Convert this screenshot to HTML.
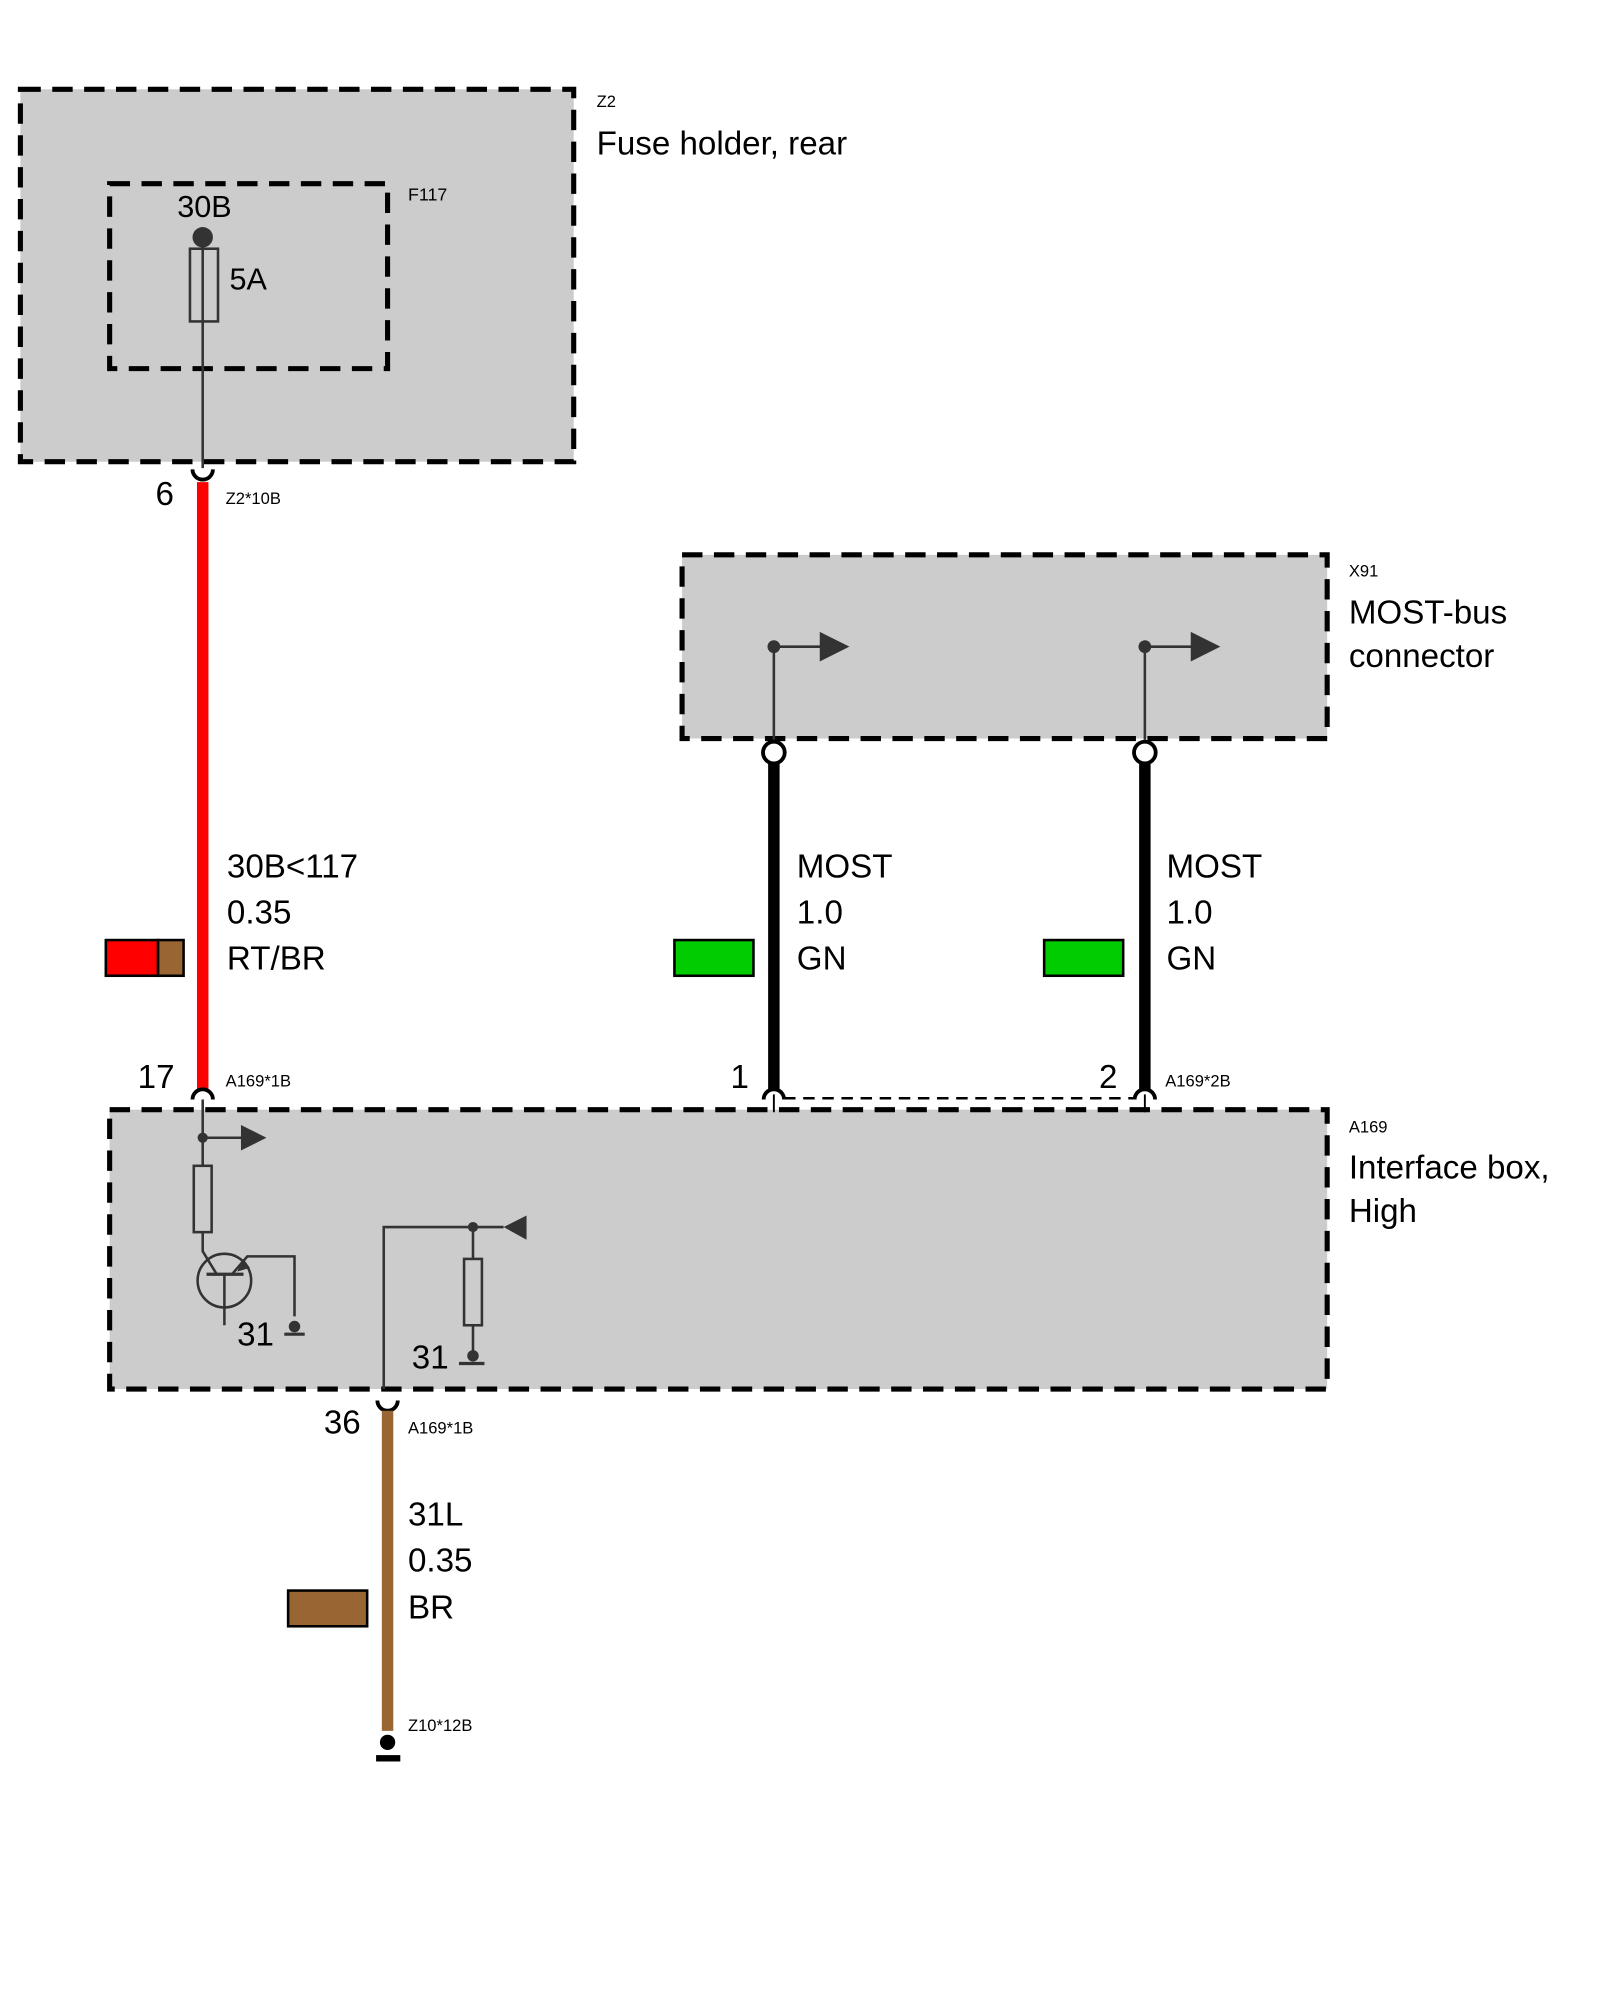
<!DOCTYPE html>
<html><head><meta charset="utf-8"><style>
html,body{margin:0;padding:0;background:#fff;}
svg{display:block;}
text{font-family:"Liberation Sans",sans-serif;fill:#000;}
</style></head><body>
<svg width="1600" height="2000" viewBox="0 0 1255 1568" preserveAspectRatio="none" xmlns="http://www.w3.org/2000/svg">
<!-- Z2 -->
<rect x="16" y="70" width="434" height="292" fill="#cccccc" stroke="#000" stroke-width="4" stroke-dasharray="16,9"/>
<rect x="86" y="144" width="218" height="145" fill="none" stroke="#000" stroke-width="4" stroke-dasharray="16,9"/>
<text x="468" y="84" font-size="13">Z2</text>
<text x="468" y="121" font-size="26">Fuse holder, rear</text>
<text x="320" y="157" font-size="14">F117</text>
<text x="139" y="170" font-size="24">30B</text>
<line x1="159" y1="186" x2="159" y2="367" stroke="#333" stroke-width="2"/>
<circle cx="159" cy="186" r="8" fill="#333"/>
<rect x="149" y="195" width="22" height="57" fill="none" stroke="#333" stroke-width="2"/>
<text x="180" y="227" font-size="24">5A</text>
<path d="M151,368 A8,8 0 0 0 167,368" fill="none" stroke="#000" stroke-width="3"/>
<line x1="159" y1="378" x2="159" y2="855" stroke="#ff0000" stroke-width="9"/>
<text x="122" y="396" font-size="26">6</text>
<text x="177" y="395" font-size="13">Z2*10B</text>
<text x="178" y="688" font-size="26">30B&lt;117</text>
<text x="178" y="724" font-size="26">0.35</text>
<text x="178" y="760" font-size="26">RT/BR</text>
<rect x="83" y="737" width="41" height="28" fill="#ff0000" stroke="#000" stroke-width="2"/>
<rect x="124" y="737" width="20" height="28" fill="#996633" stroke="#000" stroke-width="2"/>
<!-- X91 -->
<rect x="535" y="435" width="506" height="144" fill="#cccccc" stroke="#000" stroke-width="4" stroke-dasharray="16,9"/>
<text x="1058" y="452" font-size="13">X91</text>
<text x="1058" y="489" font-size="26">MOST-bus</text>
<text x="1058" y="523" font-size="26">connector</text>
<g stroke="#333" stroke-width="2" fill="#333">
<path d="M607,580 V507 H648" fill="none"/><circle cx="607" cy="507" r="4"/><path d="M644,497 L664,507 L644,517Z"/>
<path d="M898,580 V507 H939" fill="none"/><circle cx="898" cy="507" r="4"/><path d="M935,497 L955,507 L935,517Z"/>
</g>
<line x1="607" y1="599" x2="607" y2="855" stroke="#000" stroke-width="9"/>
<line x1="898" y1="599" x2="898" y2="855" stroke="#000" stroke-width="9"/>
<circle cx="607" cy="590" r="8.5" fill="#fff" stroke="#000" stroke-width="3"/>
<circle cx="898" cy="590" r="8.5" fill="#fff" stroke="#000" stroke-width="3"/>
<text x="625" y="688" font-size="26">MOST</text><text x="625" y="724" font-size="26">1.0</text><text x="625" y="760" font-size="26">GN</text>
<text x="915" y="688" font-size="26">MOST</text><text x="915" y="724" font-size="26">1.0</text><text x="915" y="760" font-size="26">GN</text>
<rect x="529" y="737" width="62" height="28" fill="#00cc00" stroke="#000" stroke-width="2"/>
<rect x="819" y="737" width="62" height="28" fill="#00cc00" stroke="#000" stroke-width="2"/>
<text x="108" y="853" font-size="26">17</text>
<text x="573" y="853" font-size="26">1</text>
<text x="862" y="853" font-size="26">2</text>
<text x="177" y="852" font-size="13">A169*1B</text>
<text x="914" y="852" font-size="13">A169*2B</text>
<!-- A169 -->
<rect x="86" y="870" width="955" height="219" fill="#cccccc" stroke="#000" stroke-width="4" stroke-dasharray="16,9"/>
<line x1="615" y1="861" x2="890" y2="861" stroke="#000" stroke-width="2" stroke-dasharray="9,6"/>
<g fill="none" stroke="#000" stroke-width="3">
<path d="M151,862 A8,8 0 0 1 167,862"/>
<path d="M599,862 A8,8 0 0 1 615,862"/>
<path d="M890,862 A8,8 0 0 1 906,862"/>
</g>
<line x1="607" y1="858" x2="607" y2="872" stroke="#000" stroke-width="1.5"/>
<line x1="898" y1="858" x2="898" y2="872" stroke="#000" stroke-width="1.5"/>
<text x="1058" y="888" font-size="13">A169</text>
<text x="1058" y="924" font-size="26">Interface box,</text>
<text x="1058" y="958" font-size="26">High</text>
<g stroke="#333" stroke-width="2" fill="none">
<path d="M159,862 V914"/>
<path d="M159,892 H192"/>
<rect x="152" y="914" width="14" height="52"/>
<path d="M159,966 V981 L170,999"/>
<circle cx="176" cy="1004" r="21"/>
<path d="M162,999 H191" stroke-width="2.5"/>
<path d="M176,999 V1039"/>
<path d="M182,999 L194,985 H231 V1032"/>
<path d="M223,1046 H239" stroke-width="2.5"/>
<path d="M301,1089 V962 H395"/>
<rect x="364" y="987" width="14" height="52"/>
<path d="M371,962 V987"/>
<path d="M371,1039 V1062"/>
<path d="M360,1069 H380" stroke-width="2.5"/>
</g>
<g fill="#333">
<circle cx="159" cy="892" r="4"/>
<path d="M189,882 L209,892 L189,902Z"/>
<path d="M191,987 L186,997 L196,994Z"/>
<circle cx="231" cy="1040" r="4.5"/>
<circle cx="371" cy="962" r="4"/>
<path d="M395,962 L413,953 L413,972Z"/>
<circle cx="371" cy="1063" r="4.5"/>
</g>
<text x="186" y="1055" font-size="26">31</text>
<text x="323" y="1073" font-size="26">31</text>
<!-- bottom -->
<path d="M296,1098 A8,8 0 0 0 312,1098" fill="none" stroke="#000" stroke-width="3"/>
<line x1="304" y1="1106" x2="304" y2="1357" stroke="#996633" stroke-width="9"/>
<text x="254" y="1124" font-size="26">36</text>
<text x="320" y="1124" font-size="13">A169*1B</text>
<text x="320" y="1196" font-size="26">31L</text>
<text x="320" y="1232" font-size="26">0.35</text>
<text x="320" y="1269" font-size="26">BR</text>
<rect x="226" y="1247" width="62" height="28" fill="#996633" stroke="#000" stroke-width="2"/>
<text x="320" y="1357" font-size="13">Z10*12B</text>
<circle cx="304" cy="1366" r="6" fill="#000"/>
<rect x="295" y="1376" width="19" height="5" fill="#000"/>
</svg>
</body></html>
